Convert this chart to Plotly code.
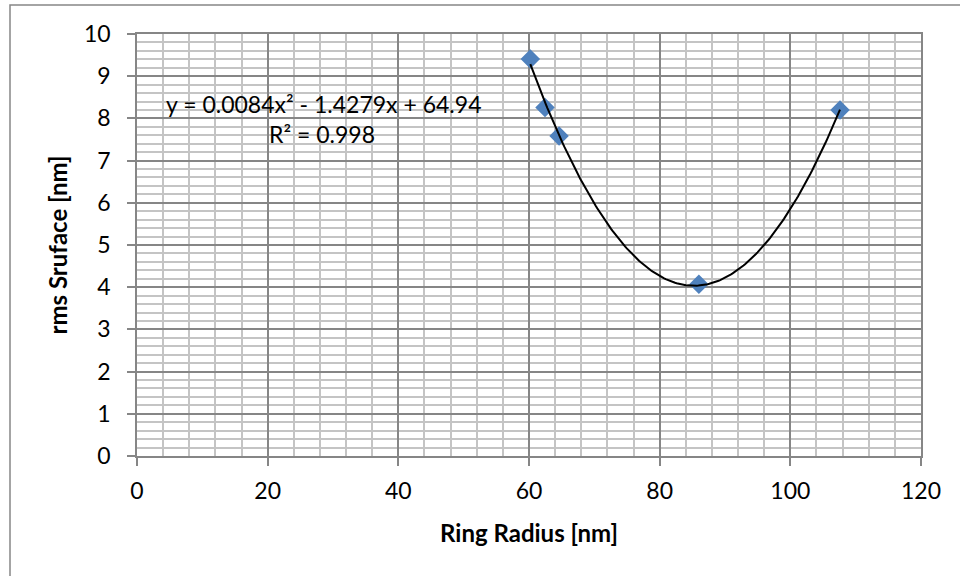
import numpy as np
import plotly.graph_objects as go

# Data
ring_radius = [60.2, 62.45, 64.6, 86.0, 107.6]
rms_surface = [9.41, 8.26, 7.58, 4.07, 8.2]
x_ticks = [0, 20, 40, 60, 80, 100, 120]
y_ticks = [0, 1, 2, 3, 4, 5, 6, 7, 8, 9, 10]
eq_text = "y = 0.0084x² - 1.4279x + 64.94"
r2_text = "R² = 0.998"

# Polynomial (order 2) trendline fitted to the data
coef = np.polyfit(ring_radius, rms_surface, 2)
tx = np.linspace(min(ring_radius), max(ring_radius), 200)
ty = np.polyval(coef, tx)

FONT = "Lato"
MAJOR = "#868686"
MINOR = "#c4c4c4"

fig = go.Figure()
fig.add_trace(go.Scatter(
    x=ring_radius, y=rms_surface, mode="markers",
    marker=dict(symbol="diamond", size=15, color="#4F81BD", line=dict(width=0)),
    showlegend=False, hoverinfo="x+y"))
fig.add_trace(go.Scatter(
    x=tx, y=ty, mode="lines", line=dict(color="black", width=2),
    showlegend=False, hoverinfo="skip"))

axis_common = dict(
    showgrid=True, gridcolor=MAJOR, gridwidth=1.5,
    showline=True, linecolor=MAJOR, linewidth=1.5, mirror=True,
    ticks="outside", ticklen=8, tickwidth=1.5, tickcolor=MAJOR,
    zeroline=False, tickfont=dict(family=FONT, size=23, color="black"),
)

fig.update_xaxes(
    range=[x_ticks[0], x_ticks[-1]], tickmode="linear", tick0=x_ticks[0],
    dtick=x_ticks[1] - x_ticks[0], ticklabelstandoff=6,
    minor=dict(dtick=4, showgrid=True, gridcolor=MINOR, gridwidth=1.5, ticks=""),
    title=dict(text="<b>Ring Radius [nm]</b>", font=dict(family=FONT, size=24, color="black"), standoff=22),
    **axis_common)
fig.update_yaxes(
    range=[y_ticks[0], y_ticks[-1]], tickmode="linear", tick0=y_ticks[0],
    dtick=y_ticks[1] - y_ticks[0], ticklabelstandoff=12,
    minor=dict(dtick=0.2, showgrid=True, gridcolor=MINOR, gridwidth=1.5, ticks=""),
    title=dict(text="<b>rms Sruface [nm]</b>", font=dict(family=FONT, size=24, color="black"), standoff=10),
    **axis_common)

fig.add_annotation(x=28.5, y=8.34, xref="x", yref="y", text=eq_text, showarrow=False,
                   font=dict(family=FONT, size=23, color="black"), xanchor="center", yanchor="middle")
fig.add_annotation(x=28.3, y=7.62, xref="x", yref="y", text=r2_text, showarrow=False,
                   font=dict(family=FONT, size=23, color="black"), xanchor="center", yanchor="middle")

# outer chart border
fig.add_shape(type="rect", xref="paper", yref="paper",
              x0=(10 - 137) / 784, x1=1.2, y0=-0.5, y1=(456 - 5) / 422,
              line=dict(color=MAJOR, width=1.5), fillcolor="rgba(0,0,0,0)", layer="below")

fig.update_layout(
    width=960, height=576,
    margin=dict(l=137, r=39, t=34, b=120),
    paper_bgcolor="white", plot_bgcolor="white",
    font=dict(family=FONT),
)

fig.write_html("out.html", config={"displayModeBar": False},
               post_script="document.body.style.margin='0px';")
